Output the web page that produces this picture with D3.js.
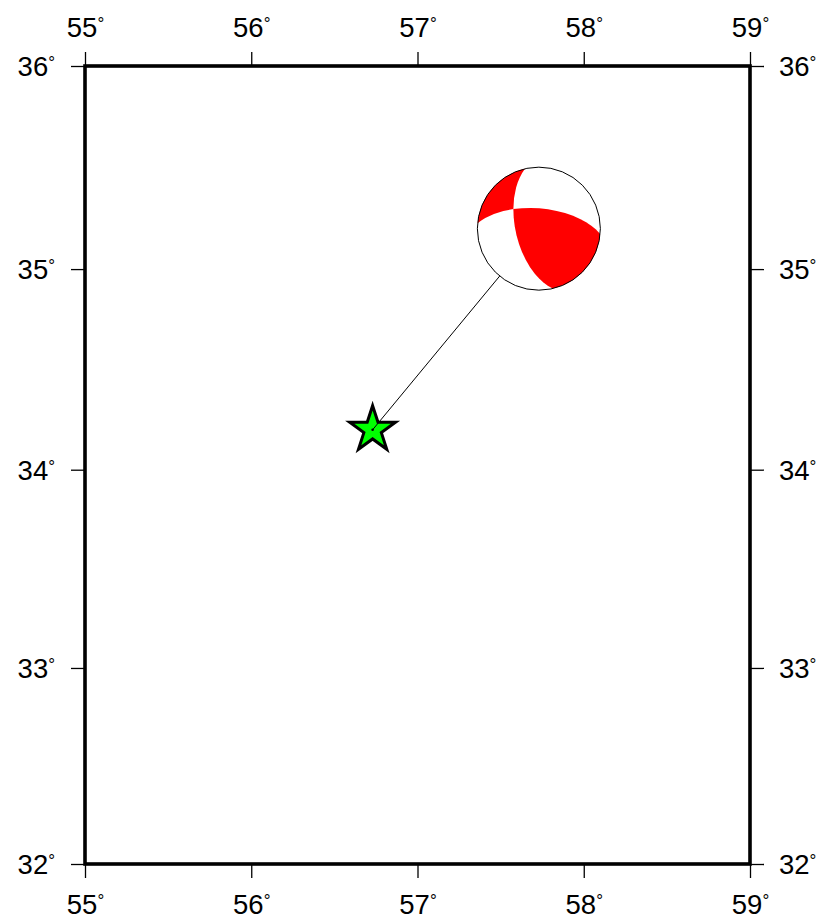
<!DOCTYPE html>
<html>
<head>
<meta charset="utf-8">
<script src="https://cdn.jsdelivr.net/npm/d3@7"></script>
<style>
  body { margin: 0; background: #fff; }
  svg { display: block; }
  text { font-family: "Liberation Sans", Arial, sans-serif; fill: #000; }
</style>
</head>
<body>
<div id="chart"></div>
<script>
// tick values (degrees)
const lonTicks = [55, 56, 57, 58, 59];
const latTicks = [32, 33, 34, 35, 36];

// epicentre and where the beachball is plotted
const epicentre = [56.73, 34.2];
const ballPosition = [57.73, 35.2];

// nodal planes
const planeStrike = [167, 275];
const planeDip = [59, 63];

const width = 839, height = 919;
const frame = { left: 85, right: 750, top: 66, bottom: 864 };
const ballRadius = 61.5;
const fontSize = 27.5;

const rad = Math.PI / 180;
const merc = lat => Math.log(Math.tan(Math.PI / 4 + lat * rad / 2));

const x = d3.scaleLinear().domain([55, 59]).range([frame.left, frame.right]);
const y = d3.scaleLinear().domain([merc(32), merc(36)]).range([frame.bottom, frame.top]);

const svg = d3.select("#chart").append("svg")
    .attr("width", width)
    .attr("height", height);

// ---- axes (all four sides, ticks pointing out)
function styleAxis(g) {
    g.select(".domain").remove();
    g.selectAll(".tick line").attr("stroke", "#000").attr("stroke-width", 1.3);
    g.selectAll(".tick text")
        .style("font-size", fontSize + "px")
        .each(function () {
            const t = d3.select(this);
            const label = t.text();
            t.text(label);
            t.append("tspan")
                .attr("dy", "-0.5em")
                .style("font-size", "17px")
                .text("°");
        });
}

const lonAxis = axis => axis.tickValues(lonTicks).tickSize(14).tickFormat(d => d);
const latAxis = axis => axis.tickValues(latTicks.map(merc)).tickSize(14)
    .tickFormat((d, i) => latTicks[i]);

svg.append("g").attr("transform", `translate(0,${frame.top})`)
    .call(lonAxis(d3.axisTop(x))).call(styleAxis)
    .selectAll(".tick text").attr("y", -29).attr("dy", 0);

svg.append("g").attr("transform", `translate(0,${frame.bottom})`)
    .call(lonAxis(d3.axisBottom(x))).call(styleAxis)
    .selectAll(".tick text").attr("y", 50).attr("dy", 0);

svg.append("g").attr("transform", `translate(${frame.left},0)`)
    .call(latAxis(d3.axisLeft(y)).tickPadding(16)).call(styleAxis)
    .selectAll(".tick text").attr("dy", "0.36em");

svg.append("g").attr("transform", `translate(${frame.right},0)`)
    .call(latAxis(d3.axisRight(y)).tickPadding(15)).call(styleAxis)
    .selectAll(".tick text").attr("dy", "0.36em");

svg.append("rect")
    .attr("x", frame.left)
    .attr("y", frame.top)
    .attr("width", frame.right - frame.left)
    .attr("height", frame.bottom - frame.top)
    .attr("fill", "none")
    .attr("stroke", "#000")
    .attr("stroke-width", 3.6);

// ---- star and connector
const starX = x(epicentre[0]), starY = y(merc(epicentre[1]));
const ballX = x(ballPosition[0]), ballY = y(merc(ballPosition[1]));

svg.append("path")
    .attr("d", d3.symbol(d3.symbolStar, 650))
    .attr("transform", `translate(${starX},${starY})`)
    .attr("fill", "#00ff00")
    .attr("stroke", "#000")
    .attr("stroke-width", 3);

svg.append("line")
    .attr("x1", starX).attr("y1", starY)
    .attr("x2", ballX).attr("y2", ballY)
    .attr("stroke", "#000")
    .attr("stroke-width", 1);

svg.append("circle")
    .attr("cx", starX).attr("cy", starY).attr("r", 1.3)
    .attr("fill", "#000");

// ---- beachball: lower hemisphere equal-area, vectors are [east, north, down]
const cross = (a, b) => [a[1] * b[2] - a[2] * b[1], a[2] * b[0] - a[0] * b[2], a[0] * b[1] - a[1] * b[0]];
const unit = a => { const n = Math.hypot(...a); return a.map(v => v / n); };
const neg = a => a.map(v => -v);
const toGeo = v => [Math.atan2(v[0], v[2]) / rad, Math.asin(v[1]) / rad];

function planeNormal(strike, dip) {
    const s = strike * rad, d = dip * rad;
    // pole of the plane, pointing upward
    return [Math.cos(s) * Math.sin(d), -Math.sin(s) * Math.sin(d), -Math.cos(d)];
}

const nA = planeNormal(planeStrike[0], planeDip[0]);
const nB = planeNormal(planeStrike[1], planeDip[1]);
let nullAxis = unit(cross(nA, nB));
if (nullAxis[2] < 0) nullAxis = neg(nullAxis);

// edges of the big red quadrant: one going south along plane A, one going east along plane B
let edgeA = unit(cross(nullAxis, nA));
if (edgeA[1] > 0) edgeA = neg(edgeA);
let edgeB = unit(cross(nullAxis, nB));
if (edgeB[0] < 0) edgeB = neg(edgeB);

// d3 polygons are wound clockwise, and the antipodal map flips the winding
function lune(n, a, b) {
    return { type: "Polygon", coordinates: [[n, a, neg(n), b, n].map(toGeo)] };
}

const ballProjection = d3.geoAzimuthalEqualArea()
    .rotate([0, 0])
    .scale(ballRadius / Math.SQRT2)
    .translate([ballX, ballY])
    .clipAngle(90)
    .precision(0.2);
const ballPath = d3.geoPath(ballProjection);

svg.append("circle")
    .attr("cx", ballX).attr("cy", ballY).attr("r", ballRadius)
    .attr("fill", "#fff");

svg.selectAll(".quadrant")
    .data([lune(nullAxis, edgeB, edgeA), lune(neg(nullAxis), neg(edgeA), neg(edgeB))])
    .enter()
    .append("path")
    .attr("class", "quadrant")
    .attr("d", ballPath)
    .attr("fill", "#ff0000");

svg.append("circle")
    .attr("cx", ballX).attr("cy", ballY).attr("r", ballRadius)
    .attr("fill", "none")
    .attr("stroke", "#000")
    .attr("stroke-width", 1);
</script>
</body>
</html>
